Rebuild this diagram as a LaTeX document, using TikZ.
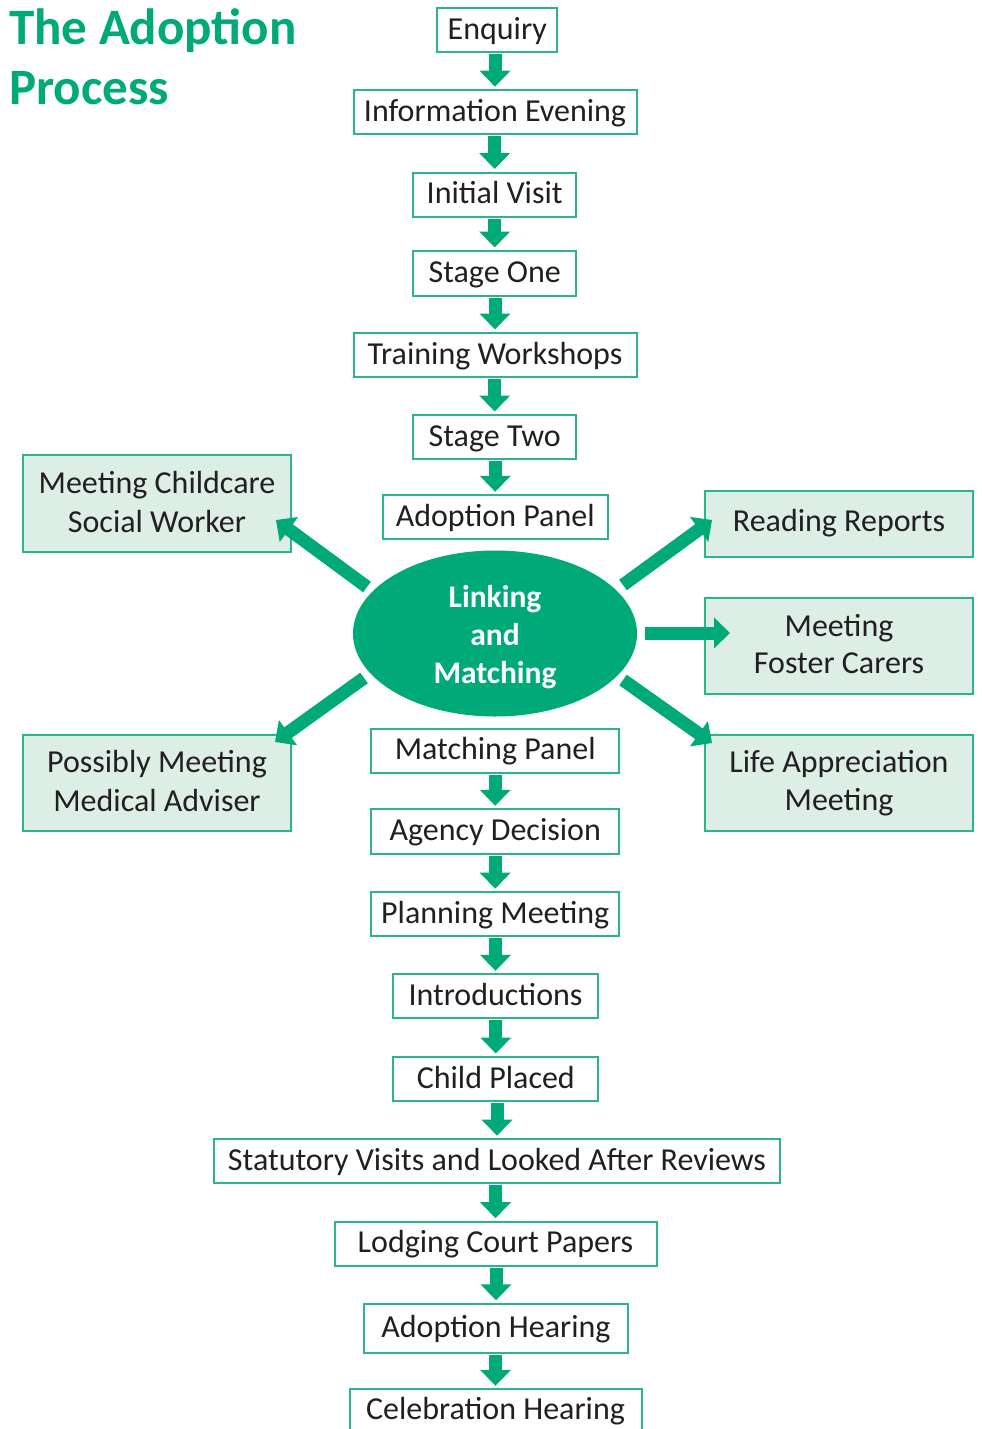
\documentclass[tikz,border=0pt]{standalone}
\usepackage{fontspec}
\setmainfont{Carlito}
\usetikzlibrary{arrows.meta,shapes.geometric}
\definecolor{grn}{RGB}{0,170,120}
\definecolor{bgrn}{RGB}{40,182,138}
\definecolor{lgrn}{RGB}{220,238,229}
\definecolor{txt}{RGB}{35,31,32}
\begin{document}
\begin{tikzpicture}[x=1pt,y=-1pt,
  box/.style={draw=bgrn, line width=2pt, fill=white, text=txt, inner sep=0pt,
    font=\fontsize{32}{38}\selectfont, text height=24pt, text depth=6pt},
  sidebox/.style={draw=bgrn, line width=2pt, fill=lgrn, inner sep=0pt, minimum width=268pt},
  lbl/.style={text=txt, inner sep=0pt, anchor=base, font=\fontsize{32}{38}\selectfont},
  wlbl/.style={text=white, inner sep=0pt, anchor=base, font=\fontsize{31.5}{38}\selectfont\bfseries},
  ttl/.style={text=grn, inner sep=0pt, anchor=base west, font=\fontsize{51}{58}\selectfont\bfseries},
  flow/.style={draw=grn, line width=13pt, -{Triangle[width=30pt,length=16pt]}},
]
\useasboundingbox (0,0) rectangle (982,1429);

% title
\node[ttl] (t1) at (9,45) {The Adoption};
\node[ttl] (t2) at (9,104) {Process};

% main column
\node[box, minimum width=120pt, minimum height=44pt] (b1) at (497.3,30.3) {Enquiry};
\node[box, minimum width=283pt, minimum height=44pt] (b2) at (495,112.2) {Information Evening};
\node[box, minimum width=163pt, minimum height=44pt] (b3) at (494.7,194.5) {Initial Visit};
\node[box, minimum width=163pt, minimum height=45pt] (b4) at (494.7,273.5) {Stage One};
\node[box, minimum width=283pt, minimum height=44pt] (b5) at (495,355) {Training Workshops};
\node[box, minimum width=163pt, minimum height=44pt] (b6) at (494.7,437) {Stage Two};
\node[box, minimum width=225pt, minimum height=44pt] (b7) at (495.2,517.3) {Adoption Panel};

\node[ellipse, fill=grn, inner sep=0pt, minimum width=284pt, minimum height=166pt] (lm) at (495,633.5) {};
\node[wlbl] (lm1) at (495,607) {Linking};
\node[wlbl] (lm2) at (495,645) {and};
\node[wlbl] (lm3) at (495,683) {Matching};

\node[box, minimum width=248pt, minimum height=44pt] (b8) at (495.2,750.5) {Matching Panel};
\node[box, minimum width=248pt, minimum height=45pt] (b9) at (495.2,831.8) {Agency Decision};
\node[box, minimum width=248pt, minimum height=44pt] (b10) at (495.2,914.2) {Planning Meeting};
\node[box, minimum width=205pt, minimum height=44pt] (b11) at (495.5,996.3) {Introductions};
\node[box, minimum width=205pt, minimum height=44pt] (b12) at (495.8,1079) {Child Placed};
\node[box, minimum width=566pt, minimum height=44pt] (b13) at (497,1161.2) {Statutory Visits and Looked After Reviews};
\node[box, minimum width=322pt, minimum height=44pt] (b14) at (495.5,1243.7) {Lodging Court Papers};
\node[box, minimum width=264pt, minimum height=49pt] (b15) at (496,1328.3) {Adoption Hearing};
\node[box, minimum width=292pt, minimum height=50pt, text height=15.5pt, text depth=6pt] (b16) at (495.5,1414.3) {Celebration Hearing};

% side boxes
\node[sidebox, minimum height=97pt] (msw) at (157,503.5) {};
\node[lbl] (msw1) at (157,493) {Meeting Childcare};
\node[lbl] (msw2) at (157,532) {Social Worker};

\node[sidebox, minimum height=96pt] (pmm) at (157,783) {};
\node[lbl] (pmm1) at (157,772.5) {Possibly Meeting};
\node[lbl] (pmm2) at (157,811) {Medical Adviser};

\node[sidebox, minimum height=66pt] (rr) at (839,524) {};
\node[lbl] (rr1) at (839,531) {Reading Reports};

\node[sidebox, minimum height=96pt] (mfc) at (839,646) {};
\node[lbl] (mfc1) at (839,636) {Meeting};
\node[lbl] (mfc2) at (839,673) {Foster Carers};

\node[sidebox, minimum height=96pt] (lam) at (839,783) {};
\node[lbl] (lam1) at (839,772) {Life Appreciation};
\node[lbl] (lam2) at (839,810) {Meeting};

% vertical flow arrows
\foreach \a/\b in {b1/b2,b2/b3,b3/b4,b4/b5,b5/b6,b6/b7,b8/b9,b9/b10,b10/b11,b11/b12,b12/b13,b13/b14,b14/b15,b15/b16}
  \draw[flow, shorten <=1pt, shorten >=2.5pt] (\b.north |- \a.south) -- (\b.north);

% diagonal arrows from Linking and Matching
\coordinate (s1) at (367,587);   \coordinate (e1) at (276,520);
\coordinate (s2) at (364,678);   \coordinate (e2) at (275,742);
\coordinate (s3) at (623,585);   \coordinate (e3) at (712,520);
\coordinate (s4) at (645,633);   \coordinate (e4) at (730,633);
\coordinate (s5) at (623,680);   \coordinate (e5) at (712,743);
\draw[flow] (s1) -- (e1);
\draw[flow] (s2) -- (e2);
\draw[flow] (s3) -- (e3);
\draw[flow] (s4) -- (e4);
\draw[flow] (s5) -- (e5);
\end{tikzpicture}
\end{document}
